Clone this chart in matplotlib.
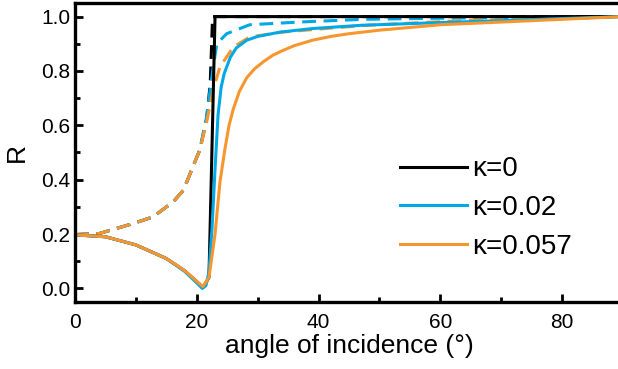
import matplotlib
matplotlib.use("Agg")
import matplotlib.pyplot as plt
from matplotlib.ticker import MultipleLocator

plt.rcParams['font.family'] = ['Liberation Sans', 'DejaVu Sans']

# p-polarisation (solid)
ang_k0 = [0, 5, 10, 15, 18, 20, 21, 22.0, 23.0, 90]
r_k0 = [0.197, 0.19, 0.16, 0.11, 0.065, 0.025, 0.003, 0.04, 1.0, 1.0]

ang_k002 = [0, 5, 10, 15, 18, 20, 20.9, 21.5, 22.0, 22.5, 23.0, 23.5, 24.0, 24.5,
            25.5, 26.5, 28.2, 30, 33.7, 39, 47, 60, 70, 80, 90]
r_k002 = [0.197, 0.19, 0.16, 0.11, 0.063, 0.02, 0.0, 0.01, 0.06, 0.22, 0.44, 0.64,
          0.74, 0.79, 0.85, 0.885, 0.913, 0.927, 0.943, 0.956, 0.968, 0.978, 0.985,
          0.993, 1.0]

ang_k057 = [0, 5, 10, 15, 18, 20, 21, 22, 23, 23.8, 24.6, 25.3, 26.0, 27.0, 28.2,
            29.5, 31, 32.5, 34, 36, 39, 42, 45, 50, 55, 60, 70, 80, 90]
r_k057 = [0.197, 0.19, 0.16, 0.11, 0.066, 0.026, 0.007, 0.04, 0.2, 0.39, 0.51, 0.6,
          0.66, 0.725, 0.775, 0.808, 0.835, 0.858, 0.874, 0.893, 0.913, 0.927, 0.937,
          0.95, 0.96, 0.97, 0.98, 0.99, 1.0]

# s-polarisation (dashed)
ang_s_k0 = [0, 4, 9.6, 12.8, 16.1, 17.8, 20.5, 21.6, 22.2, 22.6, 90]
rs_k0 = [0.198, 0.202, 0.239, 0.263, 0.318, 0.361, 0.51, 0.62, 0.75, 1.0, 1.0]

ang_s_k002 = [0, 4, 9.6, 12.8, 16.1, 17.8, 20.5, 21.6, 22.7, 23.3, 24.9, 28.7,
              36.9, 47.3, 60, 75, 90]
rs_k002 = [0.198, 0.202, 0.239, 0.263, 0.318, 0.361, 0.51, 0.63, 0.815, 0.9, 0.937,
           0.97, 0.98, 0.99, 0.994, 0.997, 1.0]

ang_s_k057 = [0, 4, 9.6, 12.8, 16.1, 17.8, 20.5, 21.6, 22.7, 23.8, 26, 28.7, 34.1,
              40, 47.9, 64.3, 80.7, 90]
rs_k057 = [0.198, 0.202, 0.239, 0.263, 0.318, 0.361, 0.51, 0.61, 0.73, 0.815, 0.888,
           0.925, 0.943, 0.954, 0.968, 0.986, 0.993, 1.0]

c_k0 = 'black'
c_k002 = '#00a9e6'
c_k057 = '#f7962e'

fig = plt.figure(figsize=(6.18, 3.69), dpi=100)
ax = fig.add_axes([75/618, 67/369, 548/618, 299/369])

dash = (0, (4.5, 2.5))
ax.plot(ang_s_k0, rs_k0, color=c_k0, lw=2.2, linestyle=dash)
ax.plot(ang_s_k002, rs_k002, color=c_k002, lw=2.2, linestyle=dash)
ax.plot(ang_s_k057, rs_k057, color=c_k057, lw=2.2, linestyle=dash)

ax.plot(ang_k0, r_k0, color=c_k0, lw=2.2, label='κ=0')
ax.plot(ang_k002, r_k002, color=c_k002, lw=2.2, label='κ=0.02')
ax.plot(ang_k057, r_k057, color=c_k057, lw=2.2, label='κ=0.057')

ax.set_xlim(0, 90)
ax.set_ylim(-0.05, 1.05)
ax.xaxis.set_major_locator(MultipleLocator(20))
ax.xaxis.set_minor_locator(MultipleLocator(10))
ax.yaxis.set_major_locator(MultipleLocator(0.2))
ax.yaxis.set_minor_locator(MultipleLocator(0.1))
ax.tick_params(which='both', direction='in', width=2, labelsize=15)
ax.tick_params(which='major', length=6)
ax.tick_params(which='minor', length=3.5)
ax.tick_params(axis='x', pad=8)
for s in ax.spines.values():
    s.set_linewidth(2.4)
ax.spines['right'].set_visible(False)

ax.set_xlabel('angle of incidence (°)', fontsize=19, labelpad=1)
ax.set_ylabel('R', fontsize=19, labelpad=9)

ax.legend(loc='center left', bbox_to_anchor=(0.593, 0.314), frameon=False, fontsize=20,
          handlelength=2.4, handletextpad=0.18, labelspacing=0.46, borderaxespad=0,
          borderpad=0)

fig.savefig('out.png', dpi=100)
